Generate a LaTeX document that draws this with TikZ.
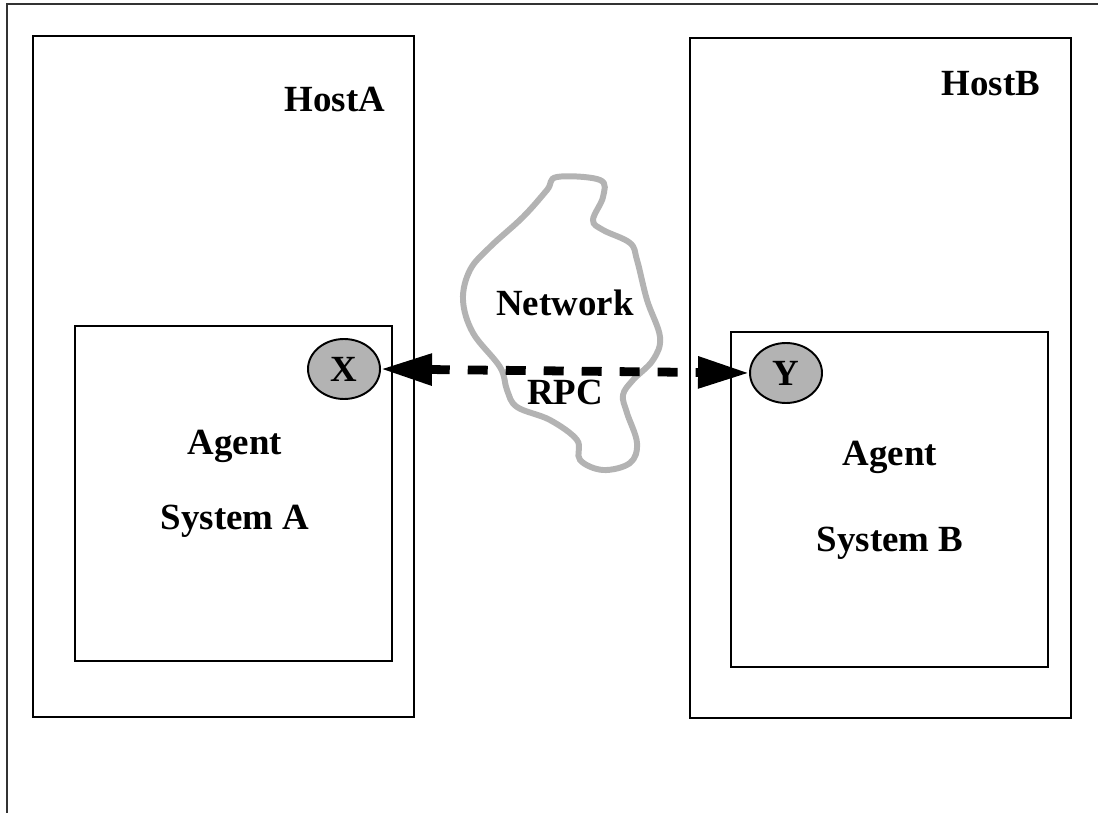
\documentclass[tikz,border=0pt]{standalone}
\usepackage{fontspec}
\setmainfont{Liberation Serif}
\definecolor{cloudgray}{HTML}{B3B3B3}
\definecolor{framegray}{HTML}{333333}
\usetikzlibrary{shapes.geometric,arrows.meta,positioning}

\begin{document}
\begin{tikzpicture}[
    x=0.02cm, y=-0.02cm,
    host/.style={rectangle, draw=black, line width=1.1pt, minimum width=7.62cm, minimum height=13.62cm},
    agentbox/.style={rectangle, draw=black, line width=1.1pt, minimum width=6.34cm, minimum height=6.7cm},
    port/.style={ellipse, draw=black, line width=1.1pt, fill=cloudgray,
                 minimum width=1.44cm, minimum height=1.2cm, inner sep=0pt, font=\fontsize{21}{25}\selectfont\bfseries},
    lbl/.style={font=\fontsize{21}{25}\selectfont\bfseries, inner sep=0pt},
    rpc/.style={line width=5pt, dash pattern=on 0.4cm off 0.36cm,
                {Triangle[length=1.02cm, width=0.6cm]}-{Triangle[length=1.02cm, width=0.6cm]}}
]
    \useasboundingbox (0,0) rectangle (1098,813);
    % outer frame (only top and left visible)
    \draw[framegray, line width=1.2pt] (1098,4) -- (7,4) -- (7,813);

    \node[host] (hostA) at (223.5,376.5) {};
    \node[host] (hostB) at (880.5,378) {};
    \node[agentbox] (agentA) at (233.5,493.5) {};
    \node[agentbox] (agentB) at (889.5,499.5) {};

    \node[lbl] (hostAlbl) at (335,100) {HostA};
    \node[lbl] (hostBlbl) at (991,84) {HostB};
    \node[lbl] (agentAlbl) at (235,446) {Agent};
    \node[lbl, below=1.5cm of agentAlbl.center, anchor=center] (sysA) {System A};
    \node[lbl] (agentBlbl) at (890,457) {Agent};
    \node[lbl, below=1.72cm of agentBlbl.center, anchor=center] (sysB) {System B};

    % network cloud
    \draw[cloudgray, line width=3.4pt] plot[smooth cycle, tension=0.6] coordinates {
        (547,190) (557,177) (600,180) (603,197) (593,220) (603,230) (630,243)
        (637,260) (647,300) (660,337) (653,360) (633,380) (623,395) (627,413)
        (637,443) (630,463) (603,470) (580,460) (577,440) (550,420) (517,407)
        (507,390) (500,367) (473,333) (463,300) (470,270) (490,247) (523,217)};
    \node[lbl] (net) at (565,303) {Network};
    \node[lbl] (rpclbl) at (565,392) {RPC};

    \node[port] (X) at (344,369) {X};
    \node[port] (Y) at (786,373) {Y};

    \draw[rpc] (X.east) -- (Y.west);
\end{tikzpicture}
\end{document}
